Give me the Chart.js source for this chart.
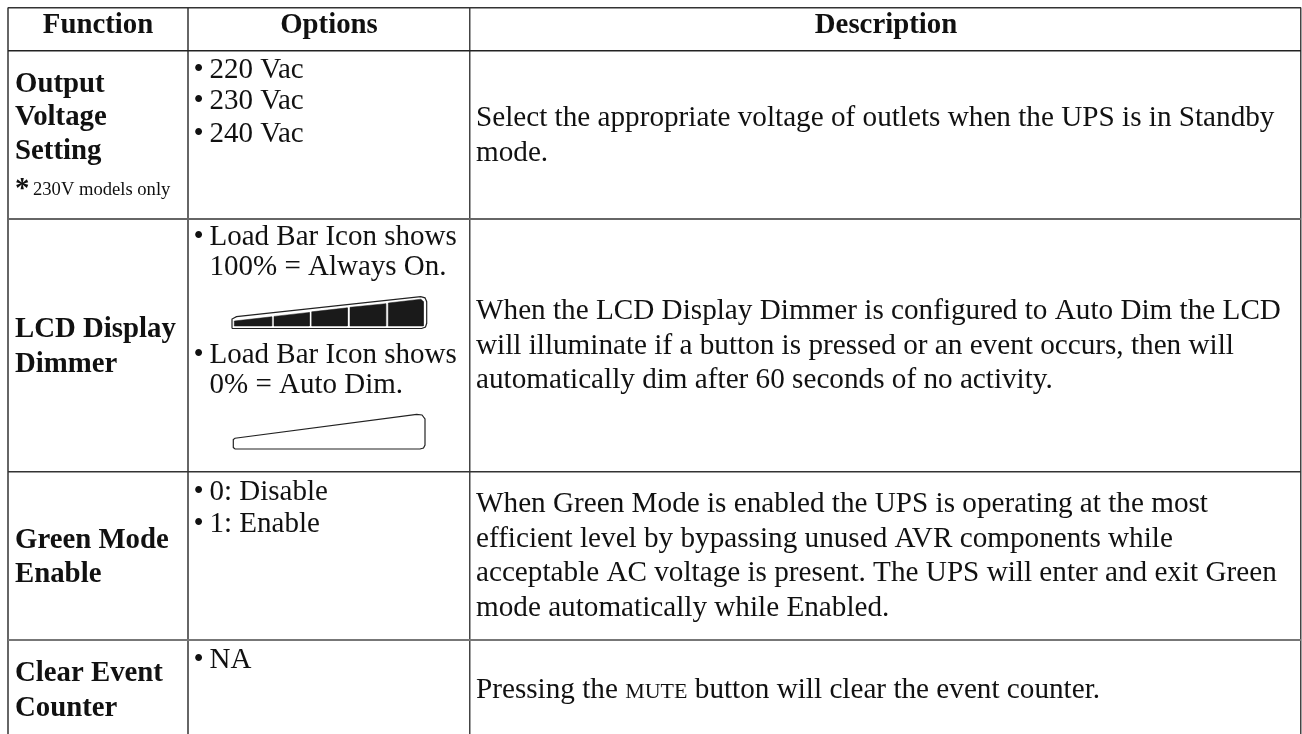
<!DOCTYPE html>
<html>
<head>
<meta charset="utf-8">
<style>
html, body { margin: 0; padding: 0; background: #fff; overflow: hidden; }
canvas { display: block; }
</style>
<script src="https://cdn.jsdelivr.net/npm/chart.js@4/dist/chart.umd.js"></script>
</head>
<body>
<canvas id="table" width="1302" height="734"></canvas>
<script>
// table content
const headers = ["Function", "Options", "Description"];
const functionCol = [
    ["Output", "Voltage", "Setting"],
    ["LCD Display", "Dimmer"],
    ["Green Mode", "Enable"],
    ["Clear Event", "Counter"]
];
const optionsCol = [
    ["220 Vac", "230 Vac", "240 Vac"],
    ["Load Bar Icon shows", "100% = Always On.", "Load Bar Icon shows", "0% = Auto Dim."],
    ["0: Disable", "1: Enable"],
    ["NA"]
];
const optionBullets = [
    [true, true, true],
    [true, false, true, false],
    [true, true],
    [true]
];
const descriptionCol = [
    ["Select the appropriate voltage of outlets when the UPS is in Standby", "mode."],
    ["When the LCD Display Dimmer is configured to Auto Dim the LCD",
     "will illuminate if a button is pressed or an event occurs, then will",
     "automatically dim after 60 seconds of no activity."],
    ["When Green Mode is enabled the UPS is operating at the most",
     "efficient level by bypassing unused AVR components while",
     "acceptable AC voltage is present. The UPS will enter and exit Green",
     "mode automatically while Enabled."],
    [["Pressing the ", "MUTE", " button will clear the event counter."]]
];

// grid, in the scale's units
const columnEdges = [8, 188, 469.5, 1301];
const rowEdges = [7.5, 50.5, 218.5, 472, 640];

// baselines of each cell's lines
const headerBase = 33;
const functionBase = [[92, 125, 159], [337, 372], [548, 582], [681, 716]];
const optionsBase = [[78, 109, 142], [245, 275, 363, 393], [500, 532], [668]];
const descriptionBase = [[126, 160.5], [318.5, 354, 388], [512, 547, 581, 615.5], [697.5]];
const headerCentres = [98, 329, 886];

// load bar icon, full one
const barOutline = [
    [232, 328.5], [232, 319], [236.5, 316.7], [420.7, 296.7], [425, 297.8], [426.7, 301.7],
    [426.7, 323.3], [425.5, 327], [421.7, 328.5], [232, 328.5]
];
const barSegments = [
    [[234.3, 326], [234.3, 321], [271.7, 316.8], [271.7, 326], [234.3, 326]],
    [[274, 326], [274, 316.4], [309.3, 312.4], [309.3, 326], [274, 326]],
    [[311.7, 326], [311.7, 311.8], [347.3, 307.8], [347.3, 326], [311.7, 326]],
    [[350, 326], [350, 307.3], [385.7, 303.7], [385.7, 326], [350, 326]],
    [[388.3, 326], [388.3, 303], [421, 299.2], [423.3, 301.5], [423.3, 326], [388.3, 326]]
];
// and the empty one
const emptyOutline = [
    [235, 449], [233.3, 447.5], [233.3, 439.5], [235, 438.2], [416.7, 414.4], [422, 415], [425, 419],
    [425, 445], [423.5, 448], [420, 449], [235, 449]
];

const columnLineColors = ["#666", "#666", "#444", "#444"];
const columnLineWidths = [2, 2, 1.5, 1.5];
const rowLineColors = ["#333", "#222", "#666", "#333", "#777"];
const rowLineWidths = [1.5, 1.5, 2, 1.5, 2];

const toPoints = arr => arr.map(p => ({ x: p[0], y: p[1] }));

const iconDatasets = [
    { data: toPoints(barOutline), borderColor: "#222", borderWidth: 1.2, fill: false },
    ...barSegments.map(s => ({ data: toPoints(s), borderColor: "#1a1a1a", borderWidth: 0.5, backgroundColor: "#1a1a1a", fill: "shape" })),
    { data: toPoints(emptyOutline), borderColor: "#222", borderWidth: 1.2, fill: false }
];

const SERIF = '"Liberation Serif", "Times New Roman", serif';
const BODY = "29.2px " + SERIF;
const OPT = "29px " + SERIF;
const BOLD = "bold 28.8px " + SERIF;
const INK = "#111";

function put(ctx, chart, str, x, y, font, align) {
    ctx.font = font;
    ctx.textAlign = align || "left";
    const px = chart.scales.x.getPixelForValue(x);
    const py = chart.scales.y.getPixelForValue(y);
    ctx.fillText(str, px, py);
    return ctx.measureText(str).width;
}

const tableText = {
    id: "tableText",
    afterDatasetsDraw(chart) {
        const ctx = chart.ctx;
        ctx.save();
        ctx.fillStyle = INK;
        ctx.textBaseline = "alphabetic";
        headers.forEach((h, i) => put(ctx, chart, h, headerCentres[i], headerBase, BOLD, "center"));
        functionCol.forEach((lines, r) => lines.forEach((t, l) => {
            put(ctx, chart, t, 15, functionBase[r][l], BOLD, "left");
        }));
        // footnote under the first function
        put(ctx, chart, "*", 15, 197, BOLD, "left");
        put(ctx, chart, "230V models only", 33, 195, "18.6px " + SERIF, "left");
        optionsCol.forEach((lines, r) => lines.forEach((t, l) => {
            if (optionBullets[r][l]) put(ctx, chart, "\u2022", 193.5, optionsBase[r][l], BODY, "left");
            put(ctx, chart, t, 209.5, optionsBase[r][l], OPT, "left");
        }));
        descriptionCol.forEach((lines, r) => lines.forEach((t, l) => {
            const y = descriptionBase[r][l];
            if (Array.isArray(t)) {
                // MUTE is set in small caps
                let x = 476;
                t.forEach((part, i) => {
                    x += put(ctx, chart, part, x, y, i === 1 ? "22px " + SERIF : BODY, "left");
                });
            } else {
                put(ctx, chart, t, 476, y, BODY, "left");
            }
        }));
        ctx.restore();
    }
};

new Chart(document.getElementById("table").getContext("2d"), {
    type: "scatter",
    data: { datasets: iconDatasets },
    options: {
        responsive: false,
        animation: false,
        devicePixelRatio: 1,
        showLine: true,
        layout: { padding: { left: 8, top: 7.5, right: 1, bottom: 0 } },
        elements: { point: { radius: 0 }, line: { tension: 0 } },
        plugins: { legend: { display: false }, tooltip: { enabled: false }, title: { display: false } },
        scales: {
            x: {
                type: "linear", min: columnEdges[0], max: columnEdges[3],
                border: { display: false },
                ticks: { display: false },
                afterBuildTicks: s => { s.ticks = columnEdges.map(v => ({ value: v })); },
                grid: {
                    color: c => columnLineColors[c.index],
                    lineWidth: c => columnLineWidths[c.index],
                    drawTicks: false
                }
            },
            y: {
                type: "linear", reverse: true, min: rowEdges[0], max: 734,
                border: { display: false },
                ticks: { display: false },
                afterBuildTicks: s => { s.ticks = rowEdges.map(v => ({ value: v })); },
                grid: {
                    color: c => rowLineColors[c.index],
                    lineWidth: c => rowLineWidths[c.index],
                    drawTicks: false
                }
            }
        }
    },
    plugins: [tableText]
});
</script>
</body>
</html>
